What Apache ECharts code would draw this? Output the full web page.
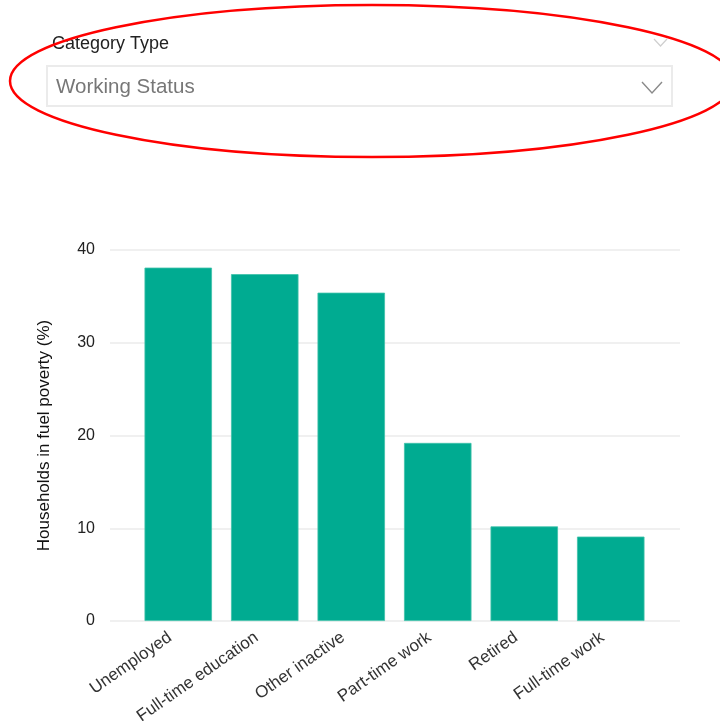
<!DOCTYPE html>
<html>
<head>
<meta charset="utf-8">
<script src="https://cdn.jsdelivr.net/npm/echarts@6/dist/echarts.min.js"></script>
<style>
html,body{margin:0;padding:0;background:#fff;}
#chart{width:720px;height:721px;}
</style>
</head>
<body>
<div id="chart"></div>
<script>
const categories = ['Unemployed', 'Full-time education', 'Other inactive', 'Part-time work', 'Retired', 'Full-time work'];
const values = [38.1, 37.4, 35.4, 19.2, 10.2, 9.1];
const yTicks = [0, 10, 20, 30, 40];
const yTitle = 'Households in fuel poverty (%)';
const filterLabel = 'Category Type';
const filterValue = 'Working Status';

const FONT = '"Liberation Sans", Arial, sans-serif';
const chart = echarts.init(document.getElementById('chart'), null, {renderer: 'canvas'});
chart.setOption({
  backgroundColor: '#fff',
  animation: false,
  grid: [
    {left: 110, right: 40, top: 250, bottom: 100, containLabel: false, outerBoundsMode: 'none'},
    {left: 135, right: 66, top: 250, bottom: 100, containLabel: false, outerBoundsMode: 'none'}
  ],
  xAxis: [
    {gridIndex: 0, type: 'value', show: false, min: 0, max: 1},
    {gridIndex: 1, type: 'category', data: categories,
     axisLine: {show: false}, axisTick: {show: false},
     axisLabel: {rotate: 35, interval: 0, margin: 9, padding: [0, 10, 0, 0], color: '#333', fontSize: 17, fontFamily: FONT}}
  ],
  yAxis: [
    {gridIndex: 0, type: 'value', min: yTicks[0], max: yTicks[yTicks.length - 1], interval: 10,
     axisLine: {show: false}, axisTick: {show: false},
     axisLabel: {color: '#222', fontSize: 16, margin: 15, fontFamily: FONT},
     splitLine: {lineStyle: {color: '#ebebeb', width: 1.5}},
     name: yTitle, nameLocation: 'middle', nameRotate: 90, nameGap: 57,
     nameTextStyle: {color: '#111', fontSize: 17, fontFamily: FONT}},
    {gridIndex: 1, type: 'value', show: false, min: yTicks[0], max: yTicks[yTicks.length - 1]}
  ],
  series: [{
    type: 'bar', xAxisIndex: 1, yAxisIndex: 1,
    data: values, barCategoryGap: '22%',
    itemStyle: {color: '#00ab91', borderColor: '#3fc2aa', borderWidth: 0.8}
  }],
  graphic: [
    {type: 'text', left: 52, top: 35, style: {text: filterLabel, fill: '#222', font: '18px ' + FONT}},
    {type: 'polyline', shape: {points: [[654, 39], [660.5, 46], [667, 39]]}, style: {stroke: '#cfcfcf', lineWidth: 1.2, fill: null}},
    {type: 'rect', shape: {x: 47, y: 66, width: 625, height: 40}, style: {fill: '#fff', stroke: '#ebebeb', lineWidth: 2}},
    {type: 'text', left: 56, top: 77, style: {text: filterValue, fill: '#777', font: '20.5px ' + FONT}},
    {type: 'polyline', shape: {points: [[642, 82], [652, 93], [662, 82]]}, style: {stroke: '#8a8a8a', lineWidth: 1.4, fill: null}},
    {type: 'ellipse', shape: {cx: 372, cy: 81, rx: 362, ry: 76}, style: {fill: null, stroke: '#ff0000', lineWidth: 2.5}}
  ]
});
</script>
</body>
</html>
